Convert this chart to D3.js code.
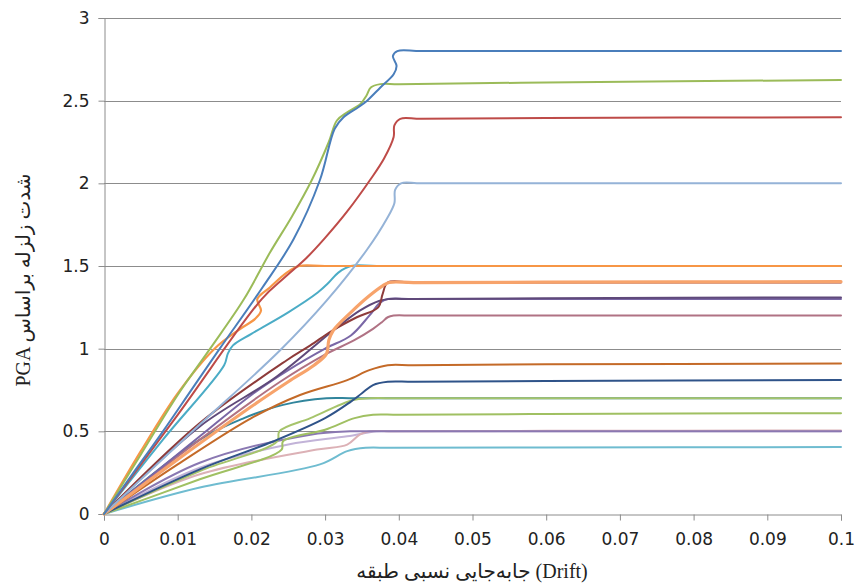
<!DOCTYPE html>
<html>
<head>
<meta charset="utf-8">
<script src="https://cdn.jsdelivr.net/npm/d3@7"></script>
<style>
  body { margin: 0; background: #fff; }
  #chart svg { display: block; }
</style>
</head>
<body>
<div id="chart"></div>
<script>
// PGA vs. story drift curves (one curve per record)
const xTicks = [0, 0.01, 0.02, 0.03, 0.04, 0.05, 0.06, 0.07, 0.08, 0.09, 0.1];
const yTicks = [0, 0.5, 1, 1.5, 2, 2.5, 3];

const xTitle = "جابه‌جایی نسبی طبقه (Drift)";
const yTitle = "PGA شدت زلزله براساس";

// each curve: [drift, PGA]
const c050a = [[0,0],[0.013,0.31],[0.028,0.48],[0.0334,0.5],[0.036,0.5],[0.06,0.5],[0.1,0.5]];
const c050b = [[0,0],[0.013,0.24],[0.0289,0.39],[0.033,0.42],[0.0347,0.48],[0.036,0.5],[0.039,0.5],[0.06,0.503],[0.1,0.505]];
const c050c = [[0,0],[0.013,0.28],[0.025,0.42],[0.033,0.47],[0.037,0.5],[0.04,0.5],[0.06,0.5],[0.1,0.5]];
const c040 = [[0,0],[0.013,0.16],[0.0293,0.3],[0.033,0.38],[0.0355,0.4],[0.039,0.4],[0.06,0.402],[0.1,0.405]];
const c060 = [[0,0],[0.013,0.21],[0.0241,0.39],[0.0243,0.44],[0.03,0.51],[0.034,0.58],[0.0365,0.6],[0.04,0.6],[0.06,0.605],[0.1,0.61]];
const c070a = [[0,0],[0.013,0.45],[0.019,0.58],[0.0243,0.66],[0.0302,0.7],[0.034,0.7],[0.06,0.7],[0.1,0.7]];
const c070b = [[0,0],[0.013,0.26],[0.0235,0.44],[0.0238,0.5],[0.028,0.58],[0.0338,0.69],[0.036,0.7],[0.04,0.7],[0.06,0.7],[0.1,0.7]];
const c080 = [[0,0],[0.013,0.27],[0.023,0.44],[0.03,0.58],[0.0335,0.68],[0.035,0.73],[0.0365,0.78],[0.0385,0.8],[0.042,0.8],[0.06,0.805],[0.1,0.81]];
const c090 = [[0,0],[0.01,0.3],[0.02,0.58],[0.0266,0.72],[0.033,0.81],[0.036,0.87],[0.0385,0.9],[0.042,0.9],[0.06,0.905],[0.1,0.91]];
const c120 = [[0,0],[0.013,0.45],[0.0239,0.8],[0.0298,0.96],[0.0339,1.05],[0.0365,1.12],[0.0377,1.16],[0.0385,1.19],[0.0393,1.2],[0.042,1.2],[0.06,1.2],[0.1,1.2]];
const c130a = [[0,0],[0.013,0.47],[0.02,0.72],[0.025,0.87],[0.03,1.0],[0.0335,1.08],[0.036,1.2],[0.0375,1.28],[0.0385,1.3],[0.042,1.3],[0.06,1.3],[0.1,1.3]];
const c130b = [[0,0],[0.013,0.53],[0.0234,0.83],[0.0311,1.11],[0.0347,1.23],[0.0374,1.29],[0.0387,1.3],[0.042,1.3],[0.06,1.305],[0.1,1.31]];
const c140a = [[0,0],[0.013,0.55],[0.0248,0.93],[0.028,1.02],[0.031,1.11],[0.0343,1.19],[0.0372,1.25],[0.0378,1.33],[0.0385,1.4],[0.042,1.4],[0.06,1.4],[0.1,1.4]];
const c140b = [[0,0],[0.01,0.33],[0.02,0.65],[0.025,0.8],[0.0285,0.9],[0.0302,0.97],[0.0305,1.05],[0.0311,1.11],[0.0335,1.22],[0.036,1.32],[0.0378,1.38],[0.0387,1.4],[0.042,1.4],[0.06,1.402],[0.1,1.405]];
const c150a = [[0,0],[0.008,0.45],[0.0163,0.9],[0.0168,0.97],[0.0175,1.02],[0.02,1.09],[0.025,1.22],[0.029,1.34],[0.0305,1.4],[0.0318,1.46],[0.0335,1.5],[0.037,1.5],[0.06,1.5],[0.1,1.5]];
const c150b = [[0,0],[0.005,0.38],[0.01,0.73],[0.015,1.0],[0.0185,1.12],[0.0205,1.18],[0.0213,1.23],[0.0208,1.3],[0.0225,1.37],[0.0248,1.46],[0.0265,1.5],[0.03,1.5],[0.06,1.5],[0.1,1.5]];
const c200 = [[0,0],[0.012,0.5],[0.0239,0.99],[0.0302,1.29],[0.0357,1.6],[0.0383,1.78],[0.0394,1.88],[0.0395,1.96],[0.0403,2.0],[0.043,2.0],[0.06,2.0],[0.1,2.0]];
const c240 = [[0,0],[0.01,0.6],[0.0214,1.3],[0.0245,1.43],[0.0275,1.55],[0.03,1.67],[0.033,1.83],[0.0361,2.02],[0.038,2.15],[0.0393,2.28],[0.0394,2.35],[0.0402,2.39],[0.043,2.39],[0.06,2.395],[0.1,2.4]];
const c262 = [[0,0],[0.005,0.36],[0.01,0.72],[0.0144,1.0],[0.019,1.3],[0.0225,1.58],[0.0255,1.8],[0.0282,2.02],[0.0305,2.25],[0.0316,2.38],[0.033,2.43],[0.0348,2.48],[0.0356,2.53],[0.0362,2.58],[0.0375,2.6],[0.04,2.6],[0.06,2.61],[0.1,2.625]];
const c280 = [[0,0],[0.004,0.25],[0.008,0.5],[0.012,0.76],[0.0157,1.0],[0.0215,1.37],[0.0257,1.66],[0.0293,2.02],[0.0313,2.33],[0.0325,2.4],[0.0345,2.46],[0.0357,2.5],[0.0375,2.58],[0.0393,2.66],[0.0397,2.71],[0.0392,2.77],[0.0398,2.8],[0.043,2.8],[0.06,2.8],[0.1,2.8]];

// drawing order, colours and widths (same order)
const curves = [c040, c050c, c050b, c050a, c060, c070a, c070b, c080, c090, c120, c130a, c130b, c140a, c140b, c150a, c150b, c200, c240, c262, c280];
const colors = ["#6fbcd0", "#c2b3d8", "#dcb1b6", "#8a78b2", "#a0c062", "#31859c", "#a6c46b", "#2f5389", "#c46a28", "#b07284", "#7a67a6", "#5f497a", "#8e3b3a", "#f7a36b", "#4bacc6", "#f79646", "#95b3d7", "#be4b48", "#9bbb59", "#4a7ebb"];
const widths = [2, 2, 2, 2, 2, 2, 2, 2, 2, 2, 2, 2, 2, 3.2, 2, 2.2, 2, 2, 2, 2];

(function drawChart() {
  const width = 859;
  const height = 588;
  const margin = { top: 18, right: 18, bottom: 74, left: 104 };

  const svg = d3.select("#chart")
    .append("svg")
    .attr("width", width)
    .attr("height", height);

  const x = d3.scaleLinear().domain([0, 0.1]).range([margin.left, width - margin.right]);
  const y = d3.scaleLinear().domain([0, 3]).range([height - margin.bottom, margin.top]);

  // horizontal gridlines
  svg.append("g")
    .selectAll("line")
    .data(yTicks.filter(d => d > 0))
    .join("line")
    .attr("x1", x(0))
    .attr("x2", x(0.1))
    .attr("y1", d => Math.round(y(d)) + 0.5)
    .attr("y2", d => Math.round(y(d)) + 0.5)
    .attr("stroke", "#8c8c8c")
    .attr("stroke-width", 1);

  const xAxis = svg.append("g")
    .attr("transform", `translate(0,${Math.round(y(0)) + 0.5})`)
    .call(d3.axisBottom(x).tickValues(xTicks).tickFormat(d3.format("~g")).tickSizeOuter(0).tickSize(6).tickPadding(12));

  const yAxis = svg.append("g")
    .attr("transform", `translate(${Math.round(x(0)) + 0.5},0)`)
    .call(d3.axisLeft(y).tickValues(yTicks).tickFormat(d3.format("~g")).tickSizeOuter(0).tickSize(6).tickPadding(9));

  [xAxis, yAxis].forEach(g => {
    g.selectAll(".domain, .tick line").attr("stroke", "#8c8c8c");
    g.selectAll(".tick text")
      .attr("fill", "#222")
      .attr("font-family", "DejaVu Sans, Verdana, sans-serif")
      .attr("font-size", 17);
  });

  const line = d3.line()
    .x(d => x(d[0]))
    .y(d => y(d[1]))
    .curve(d3.curveCatmullRom.alpha(0.5));

  svg.append("g")
    .attr("fill", "none")
    .attr("stroke-linejoin", "round")
    .attr("stroke-linecap", "round")
    .selectAll("path")
    .data(curves)
    .join("path")
    .attr("d", line)
    .attr("stroke", (d, i) => colors[i])
    .attr("stroke-width", (d, i) => widths[i]);

  svg.append("text")
    .attr("x", 472)
    .attr("y", 578)
    .attr("text-anchor", "middle")
    .attr("font-family", "Liberation Serif, DejaVu Sans, serif")
    .attr("font-size", 20)
    .attr("fill", "#222")
    .text(xTitle);

  svg.append("text")
    .attr("transform", "translate(30,280) rotate(-90)")
    .attr("text-anchor", "middle")
    .attr("font-family", "Liberation Serif, DejaVu Sans, serif")
    .attr("font-size", 20)
    .attr("fill", "#222")
    .text(yTitle);
})();
</script>
</body>
</html>
